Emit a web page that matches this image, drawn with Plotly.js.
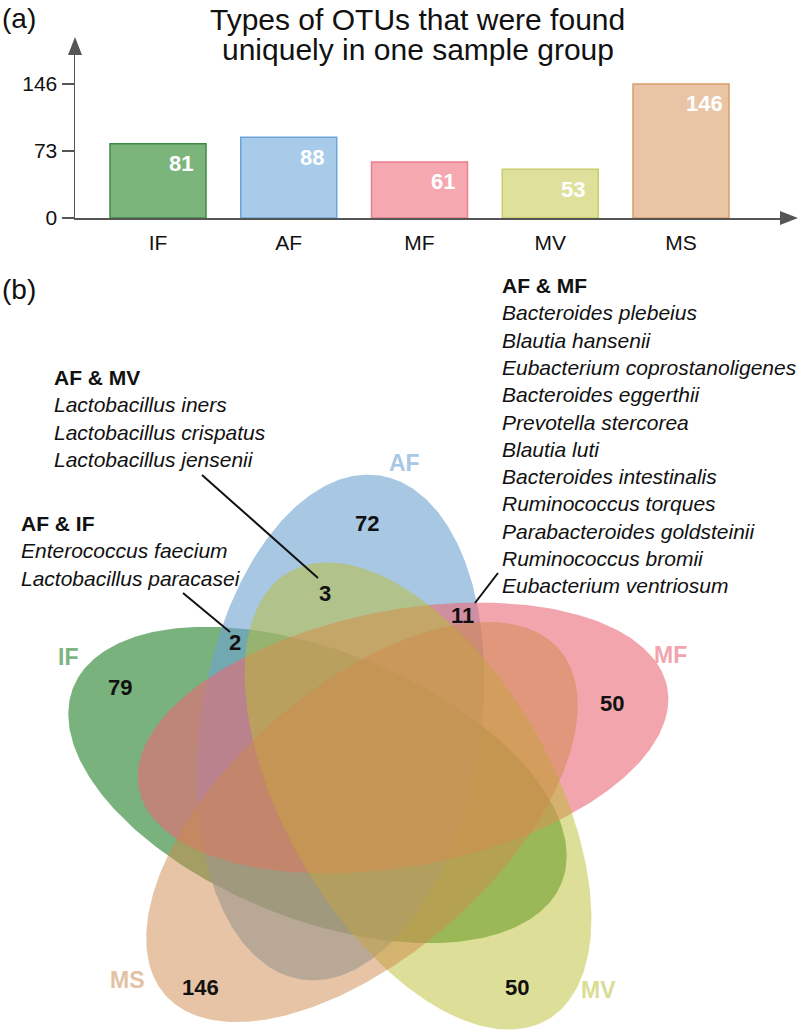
<!DOCTYPE html>
<html><head><meta charset="utf-8">
<script src="https://cdn.plot.ly/plotly-3.0.1.min.js"></script>
<style>html,body{margin:0;padding:0;background:#fff}#chart{width:800px;height:1031px}</style>
</head><body><div id="chart"></div>
<script>
// ---------------- data ----------------
const groups = ['IF', 'AF', 'MF', 'MV', 'MS'];
const uniqueCounts = [81, 88, 61, 53, 146];
const yTickVals = [0, 73, 146];
const titleLines = ['Types of OTUs that were found', 'uniquely in one sample group'];

const vennSets = ['IF', 'AF', 'MF', 'MV', 'MS'];
const vennUniqueCounts = [79, 72, 50, 50, 146];
const sharedPairs = ['AF & IF', 'AF & MV', 'AF & MF'];
const sharedCounts = [2, 3, 11];
const speciesAFIF = ['Enterococcus faecium', 'Lactobacillus paracasei'];
const speciesAFMV = ['Lactobacillus iners', 'Lactobacillus crispatus', 'Lactobacillus jensenii'];
const speciesAFMF = ['Bacteroides plebeius', 'Blautia hansenii', 'Eubacterium coprostanoligenes',
  'Bacteroides eggerthii', 'Prevotella stercorea', 'Blautia luti', 'Bacteroides intestinalis',
  'Ruminococcus torques', 'Parabacteroides goldsteinii', 'Ruminococcus bromii', 'Eubacterium ventriosum'];
const pairSpecies = [speciesAFIF, speciesAFMV, speciesAFMF];

// ---------------- styles / layout geometry (pixel space of the page) ----------------
const FONT = 'Liberation Sans, Arial, Helvetica, sans-serif';
const AXIS_COLOR = '#555555';
const barFill = ['#7cb57c', '#a8cbea', '#f5a8b0', '#dfe09b', '#e9c5a5'];
const barLine = ['#3d8b45', '#6ea5d8', '#e8808d', '#c9cc6a', '#d89e6a'];
const vennFill = {
  IF: 'rgba(33,127,38,0.6)', AF: 'rgba(108,162,208,0.6)', MF: 'rgba(233,105,117,0.6)',
  MV: 'rgba(187,189,49,0.5)', MS: 'rgba(205,137,75,0.5)'
};
const setLabelColor = {IF: '#7cb580', AF: '#a9c8e6', MF: '#f2a5ae', MV: '#d9dc95', MS: '#e3c1a3'};
// ellipse: centre, semi-axes, rotation (deg, screen coords)
const ellipseGeom = {
  IF: {cx: 317.5, cy: 785, a: 263, b: 134, rot: 21.8},
  AF: {cx: 340.5, cy: 727.5, a: 255, b: 140, rot: -81.1},
  MF: {cx: 403, cy: 738, a: 269, b: 128, rot: -10.8},
  MV: {cx: 418, cy: 796, a: 258.5, b: 133.5, rot: 60},
  MS: {cx: 362, cy: 822, a: 262, b: 134, rot: 138.7}
};
const uniqueLabelPos = {IF: [120, 687], AF: [367, 523], MF: [612, 703], MV: [517, 987], MS: [200, 987]};
const setLabelPos = {IF: [68, 657], AF: [404, 463], MF: [670, 655], MV: [598, 990], MS: [127, 980]};
const pairCountPos = [[235, 642], [325, 593], [462, 615]];
const pairBlockPos = [[19, 551], [52, 418], [500, 435]];
const leaderLines = [[183, 593, 230, 632], [202, 475, 318, 578], [498, 573, 475, 603]];

// bar-chart axis placement (pixels)
const AX_LEFT = 75, AX_RIGHT = 780, AX_BOTTOM = 218, AX_TOP = 55;
const CAT0_X = 158, CAT_STEP = 130.75, PX_PER_UNIT = 0.918;
const W = 800, H = 1031;

// ---------------- build ----------------
function ellipsePts(g, n) {
  const xs = [], ys = [];
  const r = g.rot * Math.PI / 180, cr = Math.cos(r), sr = Math.sin(r);
  for (let i = 0; i <= n; i++) {
    const t = 2 * Math.PI * i / n;
    const u = g.a * Math.cos(t), v = g.b * Math.sin(t);
    xs.push(g.cx + u * cr - v * sr);
    ys.push(g.cy + u * sr + v * cr);
  }
  return {xs, ys};
}

const traces = [];
traces.push({
  type: 'bar', x: groups, y: uniqueCounts, width: 0.734,
  marker: {color: barFill, line: {color: barLine, width: 1.5}},
  xaxis: 'x', yaxis: 'y', hoverinfo: 'skip', showlegend: false
});

vennSets.forEach(s => {
  const p = ellipsePts(ellipseGeom[s], 360);
  traces.push({
    type: 'scatter', mode: 'lines', x: p.xs, y: p.ys, fill: 'toself',
    fillcolor: vennFill[s], line: {width: 0, color: 'rgba(0,0,0,0)'},
    xaxis: 'x2', yaxis: 'y2', hoverinfo: 'skip', showlegend: false, name: s
  });
});

const ann = [];
// titles & panel letters
ann.push({xref: 'x2', yref: 'y2', x: 417, y: 19, text: titleLines[0], showarrow: false,
  font: {family: FONT, size: 30, color: '#111'}});
ann.push({xref: 'x2', yref: 'y2', x: 418, y: 49, text: titleLines[1], showarrow: false,
  font: {family: FONT, size: 30, color: '#111'}});
ann.push({xref: 'x2', yref: 'y2', x: 0, y: 18, xanchor: 'left', text: '(a)', showarrow: false,
  font: {family: FONT, size: 28, color: '#111'}});
ann.push({xref: 'x2', yref: 'y2', x: 0, y: 289, xanchor: 'left', text: '(b)', showarrow: false,
  font: {family: FONT, size: 28, color: '#111'}});

// bar value labels
groups.forEach((g, i) => {
  ann.push({xref: 'x', yref: 'y', x: g, y: uniqueCounts[i], xshift: 23, yshift: -20,
    text: '<b>' + uniqueCounts[i] + '</b>', showarrow: false,
    font: {family: FONT, size: 22, color: '#ffffff'}});
});

// venn set labels and unique counts
vennSets.forEach((s, i) => {
  ann.push({xref: 'x2', yref: 'y2', x: setLabelPos[s][0], y: setLabelPos[s][1],
    text: '<b>' + s + '</b>', showarrow: false, font: {family: FONT, size: 23, color: setLabelColor[s]}});
  ann.push({xref: 'x2', yref: 'y2', x: uniqueLabelPos[s][0], y: uniqueLabelPos[s][1],
    text: '<b>' + vennUniqueCounts[i] + '</b>', showarrow: false, font: {family: FONT, size: 22, color: '#111'}});
});

// shared pair counts and species blocks
sharedPairs.forEach((p, i) => {
  ann.push({xref: 'x2', yref: 'y2', x: pairCountPos[i][0], y: pairCountPos[i][1],
    text: '<b>' + sharedCounts[i] + '</b>', showarrow: false, font: {family: FONT, size: 22, color: '#111'}});
  const txt = '<b>' + p.replace('&', '&amp;') + '</b><br>' + pairSpecies[i].map(s => '<i>' + s + '</i>').join('<br>');
  ann.push({xref: 'x2', yref: 'y2', x: pairBlockPos[i][0], y: pairBlockPos[i][1],
    xanchor: 'left', yanchor: 'middle', align: 'left', text: txt, showarrow: false,
    font: {family: FONT, size: 21, color: '#111'}});
});

const shapes = [];
leaderLines.forEach(l => {
  shapes.push({type: 'line', xref: 'x2', yref: 'y2', x0: l[0], y0: l[1], x1: l[2], y1: l[3],
    line: {color: '#111', width: 2}});
});
// axis arrow heads
shapes.push({type: 'path', xref: 'x2', yref: 'y2',
  path: `M ${AX_LEFT} ${AX_TOP - 18} L ${AX_LEFT - 7} ${AX_TOP} L ${AX_LEFT + 7} ${AX_TOP} Z`,
  fillcolor: AXIS_COLOR, line: {width: 0}});
shapes.push({type: 'path', xref: 'x2', yref: 'y2',
  path: `M ${AX_RIGHT + 18} ${AX_BOTTOM} L ${AX_RIGHT} ${AX_BOTTOM - 7} L ${AX_RIGHT} ${AX_BOTTOM + 7} Z`,
  fillcolor: AXIS_COLOR, line: {width: 0}});

const layout = {
  width: W, height: H, margin: {l: 0, r: 0, t: 0, b: 0},
  paper_bgcolor: '#ffffff', plot_bgcolor: 'rgba(0,0,0,0)', showlegend: false,
  font: {family: FONT, color: '#111'},
  xaxis: {
    domain: [AX_LEFT / W, AX_RIGHT / W],
    range: [(AX_LEFT - CAT0_X) / CAT_STEP, (AX_RIGHT - CAT0_X) / CAT_STEP],
    type: 'category', showline: true, linecolor: AXIS_COLOR, linewidth: 1.5,
    ticks: 'outside', ticklen: 5, tickcolor: 'rgba(0,0,0,0)',
    tickfont: {family: FONT, size: 21, color: '#111'}, showgrid: false, zeroline: false,
    fixedrange: true, anchor: 'y'
  },
  yaxis: {
    domain: [(H - AX_BOTTOM) / H, (H - AX_TOP) / H],
    range: [0, (AX_BOTTOM - AX_TOP) / PX_PER_UNIT],
    tickvals: yTickVals, ticktext: yTickVals.map(String),
    showline: true, linecolor: AXIS_COLOR, linewidth: 1.5,
    ticks: 'outside', ticklen: 12, tickcolor: AXIS_COLOR, tickwidth: 1.2,
    tickfont: {family: FONT, size: 21, color: '#111'}, showgrid: false, zeroline: false,
    fixedrange: true, anchor: 'x'
  },
  xaxis2: {domain: [0, 1], range: [0, W], visible: false, fixedrange: true, anchor: 'y2'},
  yaxis2: {domain: [0, 1], range: [H, 0], visible: false, fixedrange: true, anchor: 'x2'},
  annotations: ann, shapes: shapes
};

Plotly.newPlot('chart', traces, layout, {staticPlot: true, displayModeBar: false});
</script></body></html>
